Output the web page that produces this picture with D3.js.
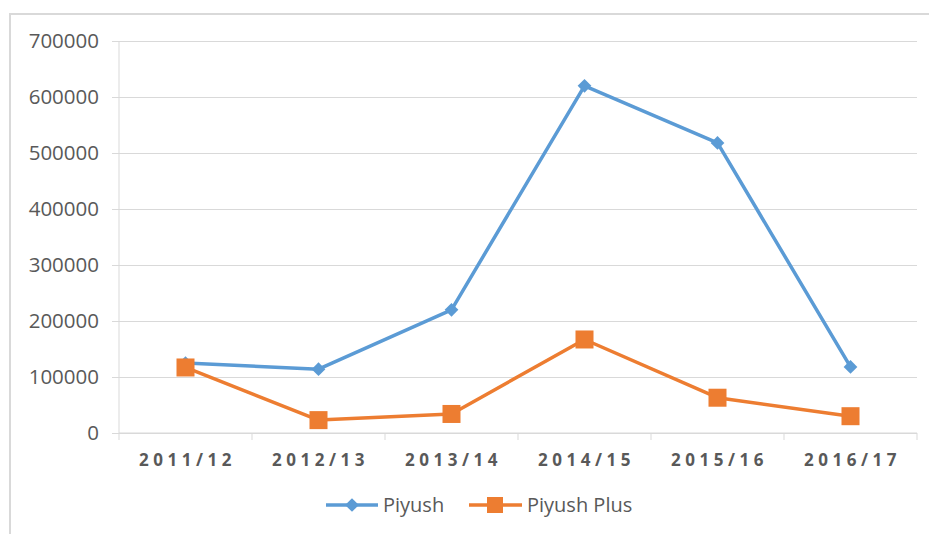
<!DOCTYPE html>
<html>
<head>
<meta charset="utf-8">
<script src="https://cdn.jsdelivr.net/npm/d3@7"></script>
<style>
  html, body { margin: 0; padding: 0; background: #fff; }
</style>
</head>
<body>
<div id="chart"></div>
<script>
// Data
const years = ['2011/12', '2012/13', '2013/14', '2014/15', '2015/16', '2016/17'];
const piyush = [125000, 114000, 220000, 620000, 518000, 118000];
const piyushPlus = [117000, 23000, 34000, 167000, 63000, 30000];
const yTicks = [0, 100000, 200000, 300000, 400000, 500000, 600000, 700000];

const width = 929;
const height = 534;
const grey = '#d9d9d9';
const textCol = '#595959';
const blue = '#5b9bd5';
const orange = '#ed7d31';

const svg = d3.select('#chart')
    .append('svg')
    .attr('width', width)
    .attr('height', height);

// Chart frame (only top and left edges visible)
svg.append('path')
    .attr('d', `M10,${height} L10,14 L${width},14`)
    .attr('fill', 'none')
    .attr('stroke', grey)
    .attr('stroke-width', 2);

const x = d3.scaleBand()
    .domain(years)
    .range([119, 917]);

const y = d3.scaleLinear()
    .domain([0, 700000])
    .range([433, 41]);

// Gridlines + y labels
const yAxis = svg.append('g')
    .attr('transform', 'translate(119,0)')
    .call(d3.axisLeft(y).tickValues(yTicks).tickFormat(d3.format('d'))
        .tickSize(-798).tickPadding(20));
yAxis.select('.domain').remove();
yAxis.selectAll('.tick line').attr('stroke', grey).attr('x1', -7);
yAxis.selectAll('.tick text')
    .attr('fill', textCol)
    .attr('font-family', '"Open Sans", sans-serif')
    .attr('font-size', '20.5px');

// Vertical axis line
svg.append('line')
    .attr('x1', 119).attr('x2', 119)
    .attr('y1', 41).attr('y2', 433)
    .attr('stroke', grey);

// X axis: line with ticks at band boundaries
svg.append('line')
    .attr('x1', 119).attr('x2', 917)
    .attr('y1', 433).attr('y2', 433)
    .attr('stroke', grey);

const bounds = years.map(d => x(d)).concat([x.range()[1]]);
svg.selectAll('.xtick')
    .data(bounds)
    .join('line')
    .attr('x1', d => d).attr('x2', d => d)
    .attr('y1', 433).attr('y2', 440)
    .attr('stroke', grey);

svg.selectAll('.xlabel')
    .data(years)
    .join('text')
    .attr('x', d => x(d) + x.bandwidth() / 2 + 2)
    .attr('y', 466)
    .attr('text-anchor', 'middle')
    .attr('font-family', '"Open Sans", sans-serif')
    .attr('font-size', '17px')
    .attr('font-weight', 'bold')
    .attr('letter-spacing', '4.5px')
    .attr('fill', textCol)
    .text(d => d);

const cx = d => x(d) + x.bandwidth() / 2;

const line = d3.line()
    .x((d, i) => cx(years[i]))
    .y(d => y(d));

// Piyush series
svg.append('path')
    .datum(piyush)
    .attr('d', line)
    .attr('fill', 'none')
    .attr('stroke', blue)
    .attr('stroke-width', 3.5)
    .attr('stroke-linejoin', 'round');

const diamond = d3.symbol().type(d3.symbolDiamond2).size(120);
svg.selectAll('.dia')
    .data(piyush)
    .join('path')
    .attr('d', diamond)
    .attr('transform', (d, i) => `translate(${cx(years[i])},${y(d)})`)
    .attr('fill', blue);

// Piyush Plus series
svg.append('path')
    .datum(piyushPlus)
    .attr('d', line)
    .attr('fill', 'none')
    .attr('stroke', orange)
    .attr('stroke-width', 3.5)
    .attr('stroke-linejoin', 'round');

svg.selectAll('.sq')
    .data(piyushPlus)
    .join('rect')
    .attr('x', (d, i) => cx(years[i]) - 9)
    .attr('y', d => y(d) - 9)
    .attr('width', 18)
    .attr('height', 18)
    .attr('fill', orange);

// Legend
const legend = svg.append('g');
const legY = 505;

legend.append('line')
    .attr('x1', 326).attr('x2', 378)
    .attr('y1', legY).attr('y2', legY)
    .attr('stroke', blue).attr('stroke-width', 3.5);
legend.append('path')
    .attr('d', diamond)
    .attr('transform', `translate(352,${legY})`)
    .attr('fill', blue);
legend.append('text')
    .attr('x', 383).attr('y', legY + 7)
    .attr('font-family', '"Open Sans", sans-serif')
    .attr('font-size', '20px')
    .attr('fill', textCol)
    .text('Piyush');

legend.append('line')
    .attr('x1', 469).attr('x2', 522)
    .attr('y1', legY).attr('y2', legY)
    .attr('stroke', orange).attr('stroke-width', 3.5);
legend.append('rect')
    .attr('x', 487).attr('y', legY - 8)
    .attr('width', 16).attr('height', 16)
    .attr('fill', orange);
legend.append('text')
    .attr('x', 527).attr('y', legY + 7)
    .attr('font-family', '"Open Sans", sans-serif')
    .attr('font-size', '20px')
    .attr('fill', textCol)
    .text('Piyush Plus');
</script>
</body>
</html>
